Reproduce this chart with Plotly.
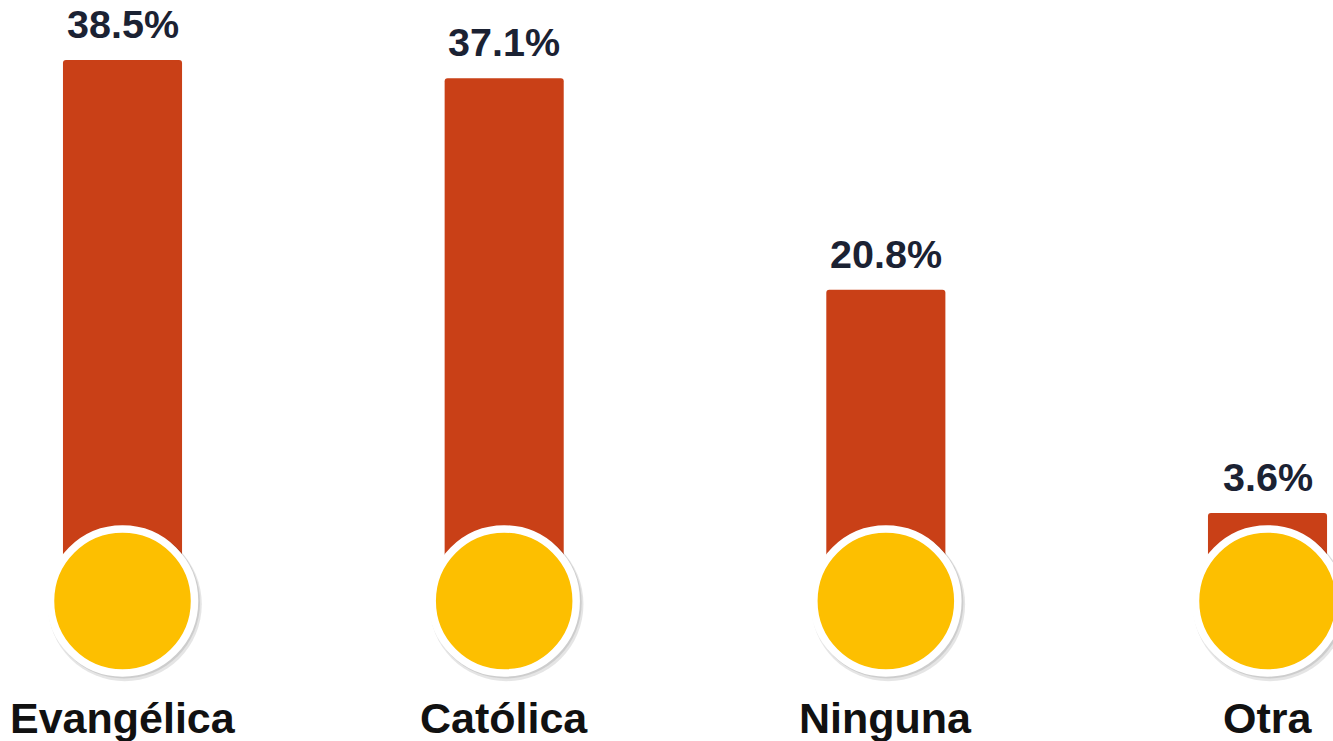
import plotly.graph_objects as go

categories = ["Evangélica", "Católica", "Ninguna", "Otra"]
values = [38.5, 37.1, 20.8, 3.6]
value_labels = ["38.5%", "37.1%", "20.8%", "3.6%"]

BAR = "#C94017"
YEL = "#FDBF00"
FONT = "Liberation Sans, Arial, Helvetica, sans-serif"

xs = list(range(len(categories)))
circle_y = -3.18
label_y = -12.2

fig = go.Figure()
fig.add_trace(go.Bar(x=xs, y=values, width=0.312, marker=dict(color=BAR, line=dict(width=0)),
                     hoverinfo="skip"))
# shadow
fig.add_trace(go.Scatter(x=[x + 0.006 for x in xs], y=[circle_y - 0.25] * len(xs), mode="markers",
                         marker=dict(size=154, color="rgba(0,0,0,0.10)", line=dict(width=0)),
                         hoverinfo="skip"))
fig.add_trace(go.Scatter(x=[x + 0.004 for x in xs], y=[circle_y - 0.12] * len(xs), mode="markers",
                         marker=dict(size=152, color="rgba(0,0,0,0.10)", line=dict(width=0)),
                         hoverinfo="skip"))
fig.add_trace(go.Scatter(x=xs, y=[circle_y] * len(xs), mode="markers",
                         marker=dict(size=144, color=YEL, line=dict(width=7.5, color="white")),
                         hoverinfo="skip"))

for x, v, t in zip(xs, values, value_labels):
    fig.add_annotation(x=x, y=v, text=t, showarrow=False, yanchor="bottom", yshift=12,
                       font=dict(family=FONT, size=39.5, color="#1B2233", weight="bold"))
for x, c in zip(xs, categories):
    fig.add_annotation(x=x, y=label_y, text=c, showarrow=False, yanchor="middle",
                       font=dict(family=FONT, size=43, color="#111111", weight="bold"))

fig.update_layout(
    width=1333, height=741, margin=dict(l=0, r=0, t=0, b=0),
    paper_bgcolor="white", plot_bgcolor="white", showlegend=False,
    barcornerradius=3,
    xaxis=dict(range=[-0.321, 3.1716], visible=False, fixedrange=True),
    yaxis=dict(range=[-13.97, 43.12], visible=False, fixedrange=True),
)
fig.write_html("out.html", config={"displayModeBar": False},
               post_script="document.body.style.margin='0';document.body.style.overflow='hidden';")
